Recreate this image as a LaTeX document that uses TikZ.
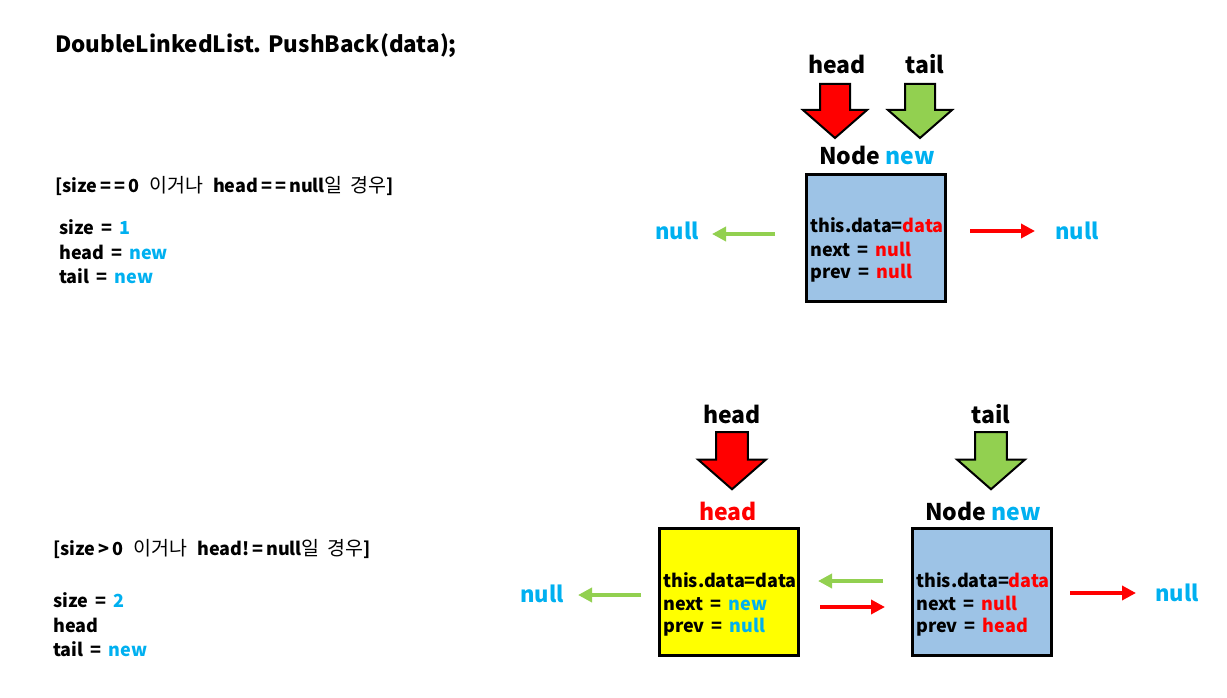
\documentclass[tikz,border=0pt]{standalone}
\usepackage{fontspec}
\setmainfont{Noto Sans CJK KR}
\usetikzlibrary{arrows.meta}
\definecolor{nblue}{HTML}{00B0F0}
\definecolor{lgreen}{HTML}{92D050}
\definecolor{boxblue}{HTML}{9DC3E6}
\definecolor{boxyellow}{HTML}{FFFF00}
\definecolor{nred}{HTML}{FF0000}
\newcommand{\bl}[1]{\textcolor{nblue}{#1}}
\newcommand{\rd}[1]{\textcolor{nred}{#1}}
\newcommand{\kr}[1]{{\mdseries\fontsize{19.5}{20}\selectfont #1}}
\tikzset{
  txt/.style={font=\bfseries\fontsize{18}{20}\selectfont, inner sep=0pt, anchor=base west},
  title/.style={font=\bfseries\fontsize{22.4}{24}\selectfont, inner sep=0pt, anchor=base west},
  ptr/.style={font=\bfseries\fontsize{23}{25}\selectfont, inner sep=0pt, anchor=base},
  nul/.style={font=\bfseries\fontsize{22}{24}\selectfont, text=nblue, inner sep=0pt, anchor=base west},
  nodebox/.style={draw=black, line width=3pt, minimum width=139pt, minimum height=127pt, anchor=north west, inner sep=0pt},
  garrow/.style={line width=4pt, draw=lgreen, -{Triangle[length=14pt,width=14pt]}},
  rarrow/.style={line width=4pt, draw=nred, -{Triangle[length=14pt,width=14pt]}},
  pics/blockarrow/.style={code={
    \draw[line width=2pt, fill=#1, line join=miter]
      (-15,0) -- (15,0) -- (15,26) -- (32,26) -- (0,54) -- (-32,26) -- (-15,26) -- cycle;}}
}
\begin{document}
\begin{tikzpicture}[x=1pt,y=-1pt]
\useasboundingbox (0,0) rectangle (1227,698);

% title
\node[title] (title) at (55,53) {DoubleLinkedList. PushBack(data);};

% ---------- case 1 ----------
\node[txt] (cond1) at (55,193) {[size\,=\,=\,0\hspace{10pt}\kr{이거나}\hspace{10pt}head\,=\,=\,null\kr{일\hspace{8pt}경우}]};
\node[txt] (s1) at (59,234) {size \,=\, \bl{1}};
\node[txt] (h1) at (59,259) {head \,=\, \bl{new}};
\node[txt] (t1) at (59,283) {tail \,=\, \bl{new}};

\node[ptr] (headlbl1) at (837,74) {head};
\node[ptr] (taillbl1) at (925,74) {tail};
\pic at (835,84) {blockarrow=nred};
\pic at (920,84) {blockarrow=lgreen};

\node[ptr, anchor=base] (nodenew1) at (877,165) {Node \bl{new}};
\node[nodebox, fill=boxblue] (box1) at (805,173) {};
\node[txt] (b1a) at (810,233) {this.data=\rd{data}};
\node[txt] (b1b) at (810,256) {next \,=\, \rd{null}};
\node[txt] (b1c) at (810,278) {prev \,=\, \rd{null}};

\node[nul] (null1l) at (655,240) {null};
\node[nul] (null1r) at (1055,239) {null};
\coordinate (g1s) at (775,234);
\coordinate (g1e) at (712,234);
\coordinate (r1s) at (970,231);
\coordinate (r1e) at (1035,231);
\draw[garrow] (g1s) -- (g1e);
\draw[rarrow] (r1s) -- (r1e);

% ---------- case 2 ----------
\node[txt] (cond2) at (53,555) {[size\,>\,0\hspace{10pt}\kr{이거나}\hspace{10pt}head!\,=\,null\kr{일\hspace{8pt}경우}]};
\node[txt] (s2) at (53,607) {size \,=\, \bl{2}};
\node[txt] (h2) at (53,632) {head};
\node[txt] (t2) at (53,656) {tail \,=\, \bl{new}};

\node[ptr] (headlbl2) at (732,423) {head};
\node[ptr] (taillbl2) at (991,423) {tail};
\pic[scale=1.06] at (732,432) {blockarrow=nred};
\pic[scale=1.06] at (991,432) {blockarrow=lgreen};

\node[ptr, text=nred] (headname2) at (728,520) {head};
\node[ptr] (nodenew2) at (983,520) {Node \bl{new}};

\node[nodebox, fill=boxyellow] (box2) at (658,527) {};
\node[txt] (b2a) at (663,587) {this.data=data};
\node[txt] (b2b) at (663,610) {next \,=\, \bl{new}};
\node[txt] (b2c) at (663,632) {prev \,=\, \bl{null}};

\node[nodebox, fill=boxblue] (box3) at (911,527) {};
\node[txt] (b3a) at (916,587) {this.data=\rd{data}};
\node[txt] (b3b) at (916,610) {next \,=\, \rd{null}};
\node[txt] (b3c) at (916,632) {prev \,=\, \rd{head}};

\node[nul] (null2l) at (520,602) {null};
\node[nul] (null2r) at (1155,601) {null};
\coordinate (g2s) at (641,595);
\coordinate (g2e) at (578,595);
\coordinate (g3s) at (883,581);
\coordinate (g3e) at (818,581);
\coordinate (r2s) at (820,607);
\coordinate (r2e) at (885,607);
\coordinate (r3s) at (1070,593);
\coordinate (r3e) at (1136,593);
\draw[garrow] (g2s) -- (g2e);
\draw[garrow] (g3s) -- (g3e);
\draw[rarrow] (r2s) -- (r2e);
\draw[rarrow] (r3s) -- (r3e);
\end{tikzpicture}
\end{document}
